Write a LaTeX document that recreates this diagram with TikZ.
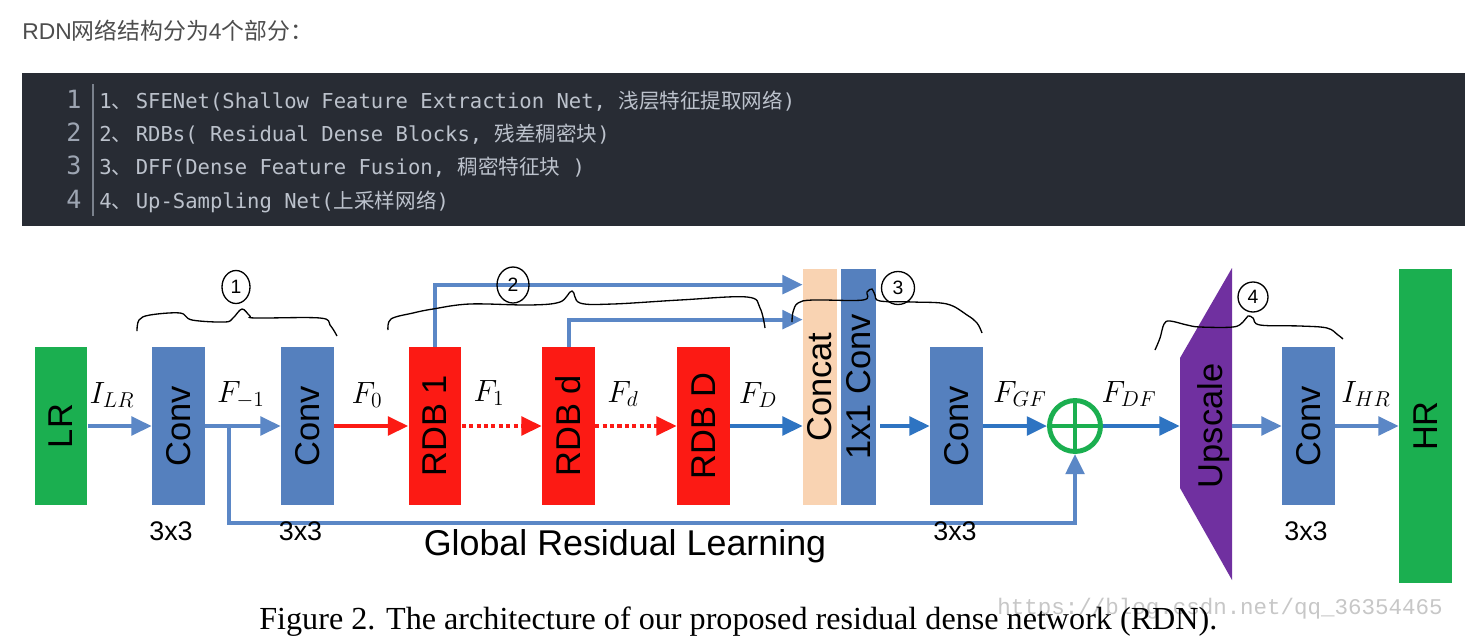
\RequirePackage{fix-cm}
\documentclass[tikz,border=0pt]{standalone}
\usepackage[no-math]{fontspec}
\usepackage{graphicx}
\setmainfont{Liberation Sans}
\newfontfamily\cjk{Noto Sans CJK SC}
\newfontfamily\codefont{DejaVu Sans Mono}
\newfontfamily\capfont{Liberation Serif}
\newfontfamily\wmfont{Liberation Mono}
\usetikzlibrary{arrows.meta, calc, shapes.geometric}
\definecolor{rdngreen}{HTML}{1BAF50}
\definecolor{rdnblue}{HTML}{5580BE}
\definecolor{rdnline}{HTML}{5B87C6}
\definecolor{rdndark}{HTML}{2E74C2}
\definecolor{rdnred}{HTML}{FC1A14}
\definecolor{rdnpeach}{HTML}{F9D3B2}
\definecolor{rdnpurple}{HTML}{7030A0}
\definecolor{codebg}{HTML}{282C34}
\definecolor{codefg}{HTML}{BCC2CC}
\definecolor{codenum}{HTML}{9DA5B2}
\definecolor{headgray}{HTML}{4D4D4D}
\newcommand{\cjkcomma}{{\cjk 、}\hspace{2pt}}

\begin{document}
\begin{tikzpicture}[x=0.02cm, y=-0.02cm,
  blk/.style={rectangle, inner sep=0pt, minimum width=1.06cm, minimum height=3.16cm, font=\fontsize{19.6}{22}\selectfont},
  convbox/.style={blk, fill=rdnblue},
  rdbbox/.style={blk, fill=rdnred},
  iobox/.style={blk, fill=rdngreen},
  slimbox/.style={blk, minimum height=4.72cm},
  ksize/.style={anchor=base, inner sep=0pt, font=\fontsize{15.3}{18}\selectfont},
  feat/.style={anchor=base, inner sep=0pt, font=\fontsize{17.5}{20}\selectfont},
  flow/.style={draw=rdnline, line width=2.27pt, -{Triangle[length=11.5pt, width=10.5pt]}},
  flowdark/.style={flow, draw=rdndark},
  flowred/.style={flow, draw=rdnred},
  dotred/.style={flowred, dash pattern=on 2.3pt off 1.9pt},
  hand/.style={draw=black, line width=0.75pt},
  handnum/.style={ellipse, draw=black, line width=0.75pt, inner sep=0pt, font=\fontsize{11}{12}\selectfont},
  lnum/.style={anchor=base, inner sep=0pt, font=\codefont\fontsize{14.3}{16}\selectfont, text=codenum},
  cline/.style={anchor=base west, inner sep=0pt, font=\codefont\fontsize{11.7}{14}\selectfont, text=codefg},
]
\fill[white] (0,0) rectangle (1481,643);
\useasboundingbox (0,0) rectangle (1481,643);

% header and code listing
\node[anchor=base west, inner sep=0pt, font=\fontsize{13}{15}\selectfont, text=headgray] (head) at (22,39.5) {RDN{\cjk 网络结构分为}4{\cjk 个部分：}};
\fill[codebg] (22,73) rectangle (1465,226);
\draw[codenum!70!codebg, line width=0.6pt] (93,84) -- (93,216);
\node[lnum] (n1) at (74,108.3) {1};
\node[lnum] (n2) at (74,141.6) {2};
\node[lnum] (n3) at (74,174.9) {3};
\node[lnum] (n4) at (74,208.2) {4};
\node[cline] (l1) at (99,108.3) {1\cjkcomma SFENet(Shallow Feature Extraction Net, {\cjk 浅层特征提取网络})};
\node[cline] (l2) at (99,141.6) {2\cjkcomma RDBs( Residual Dense Blocks, {\cjk 残差稠密块})};
\node[cline] (l3) at (99,174.9) {3\cjkcomma DFF(Dense Feature Fusion, {\cjk 稠密特征块} )};
\node[cline] (l4) at (99,208.2) {4\cjkcomma Up-Sampling Net({\cjk 上采样网络})};

% blocks
\node[iobox] (lr) at (61,426) {\rotatebox{90}{LR}};
\node[convbox] (cv1) at (178.5,426) {\rotatebox{90}{Conv}};
\node[convbox] (cv2) at (307.5,426) {\rotatebox{90}{Conv}};
\node[rdbbox] (rdb1) at (435,426) {\rotatebox{90}{RDB 1}};
\node[rdbbox] (rdbd) at (568.5,426) {\rotatebox{90}{RDB d}};
\node[rdbbox] (rdbn) at (703.5,426) {\rotatebox{90}{RDB D}};
\node[slimbox, fill=rdnpeach, minimum width=0.68cm] (cat) at (820,387) {\rotatebox{90}{Concat}};
\node[slimbox, fill=rdnblue, minimum width=0.70cm] (fuse) at (858.5,387) {\rotatebox{90}{1x1 Conv}};
\node[convbox] (cv3) at (956.5,426) {\rotatebox{90}{Conv}};
\node[circle, draw=rdngreen, line width=2.8pt, fill=white, minimum size=1.02cm, inner sep=0pt,
  path picture={\draw[rdngreen, line width=2.8pt]
    (path picture bounding box.north) -- (path picture bounding box.south)
    (path picture bounding box.west) -- (path picture bounding box.east);}] (sum) at (1075,426) {};
\fill[rdnpurple] (1180,358) -- (1232,268) -- (1232,580) -- (1180,488) -- cycle;
\node[blk, minimum width=1.04cm, minimum height=2.6cm] (up) at (1206,426) {\rotatebox{90}{\raisebox{-0.16cm}[\height][\depth]{Upscale}}};
\node[convbox] (cv4) at (1308.5,426) {\rotatebox{90}{Conv}};
\node[iobox, minimum height=6.3cm] (hr) at (1425.5,426) {\rotatebox{90}{HR}};

% connectors
\draw[flow] (lr.east) -- (cv1.west);
\draw[flow] (cv1.east) -- (cv2.west);
\draw[flowred] (cv2.east) -- (rdb1.west);
\draw[dotred] (rdb1.east) -- (rdbd.west);
\draw[dotred] (rdbd.east) -- (rdbn.west);
\draw[flowdark] (rdbn.east) -- (rdbn.east -| cat.west);
\draw[flow] (rdb1.north) |- ([yshift=-0.32cm]cat.north west);
\draw[flow] (rdbd.north) |- ([yshift=-1.02cm]cat.north west);
\draw[flowdark, shorten <=2.3pt] (fuse.east |- cv3.west) -- (cv3.west);
\draw[flowdark] (cv3.east) -- (sum.west);
\draw[flowdark] (sum.east) -- (up.west);
\draw[flow] (up.east) -- (cv4.west);
\draw[flow] (cv4.east) -- (hr.west);
\coordinate (skip) at (229,426);
\coordinate (skipd) at (229,523);
\draw[flow] (skip) -- (skipd) -| (sum.south);

% labels
\node[feat] (ilr) at (112,403) {$I_{LR}$};
\node[feat] (fm1) at (241,402) {$F_{-1}$};
\node[feat] (f0) at (367,403) {$F_0$};
\node[feat] (f1) at (489,401) {$F_1$};
\node[feat] (fd) at (623,402) {$F_d$};
\node[feat] (fn) at (758,403) {$F_D$};
\node[feat] (fgf) at (1020,402) {$F_{GF}$};
\node[feat] (fdf) at (1129,402) {$F_{DF}$};
\node[feat] (ihr) at (1366,402) {$I_{HR}$};
\node[ksize] (k1) at (171,540) {3x3};
\node[ksize] (k2) at (300.5,540) {3x3};
\node[ksize] (k3) at (955,540) {3x3};
\node[ksize] (k4) at (1306,540) {3x3};
\node[anchor=base, inner sep=0pt, font=\fontsize{20.4}{24}\selectfont] (grl) at (625,555) {Global Residual Learning};

% caption
\node[anchor=base west, inner sep=0pt, font=\wmfont\fontsize{12.8}{15}\selectfont, text=black!22] (wm) at (997,614) {https://blog.csdn.net/qq\_36354465};
\node[anchor=base west, inner sep=0pt, font=\capfont\fontsize{18.3}{21}\selectfont] (cap) at (259,629) {Figure 2. The architecture of our proposed residual dense network (RDN).};

% hand-drawn braces
\draw[hand] plot[smooth, tension=0.6] coordinates {(137,331) (139,320) (150,315) (180,313) (192,320) (225,322) (233,318) (242,309) (250,316) (256,318) (320,318) (330,325) (337,336)};
\draw[hand] plot[smooth, tension=0.6] coordinates {(388,330) (391,319) (413,313) (433,309) (470,304) (530,305) (560,302) (572,291) (580,303) (613,304) (680,300) (747,297) (760,308) (765,328)};
\draw[hand] plot[smooth, tension=0.6] coordinates {(792,322) (793,312) (798,303) (813,300) (863,300) (867,292) (872,289) (875,295) (880,301) (913,302) (947,304) (967,315) (977,323) (982,333)};
\draw[hand] plot[smooth, tension=0.6] coordinates {(1155,350) (1160,338) (1164,324) (1170,321) (1187,325) (1200,327) (1233,327) (1243,322) (1248,316) (1253,318) (1260,325) (1300,326) (1327,328) (1338,335) (1343,339)};
\node[handnum, minimum width=0.56cm, minimum height=0.66cm] (p1) at (236,287) {1};
\node[handnum, minimum width=0.64cm, minimum height=0.72cm] (p2) at (513,285) {2};
\node[handnum, minimum width=0.66cm, minimum height=0.66cm] (p3) at (898,288) {3};
\node[handnum, minimum width=0.60cm, minimum height=0.60cm] (p4) at (1253,297) {4};
\end{tikzpicture}
\end{document}
